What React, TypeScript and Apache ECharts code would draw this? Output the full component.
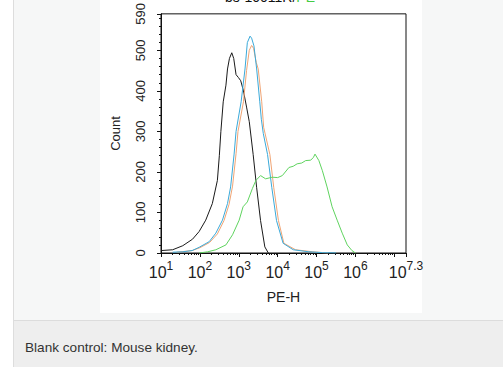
import React, { useEffect, useRef } from "react";
import * as echarts from "echarts";

// x values are log10 of PE-H intensity
const blackX = [1.0, 1.3, 1.56, 1.81, 1.98, 2.15, 2.32, 2.45, 2.5, 2.54, 2.6, 2.67, 2.71, 2.76, 2.82, 2.87, 2.93, 2.99, 3.05, 3.12, 3.2, 3.27, 3.37, 3.46, 3.56, 3.67, 3.76];
const blackY = [6, 8, 18, 34, 53, 81, 122, 179, 240, 300, 373, 414, 454, 480, 494, 480, 440, 433, 425, 400, 360, 324, 243, 161, 80, 15, 0];

const blueX = [1.3, 1.56, 1.8, 1.98, 2.24, 2.41, 2.58, 2.71, 2.79, 2.88, 2.93, 3.06, 3.16, 3.22, 3.29, 3.33, 3.39, 3.46, 3.54, 3.58, 3.63, 3.74, 3.85, 3.97, 4.14, 4.4, 4.8, 5.15, 5.5];
const blueY = [2, 3, 6, 14, 28, 49, 81, 122, 163, 244, 300, 373, 454, 519, 535, 530, 511, 454, 373, 330, 295, 243, 161, 80, 24, 8, 3, 1, 0];

const orangeX = [1.4, 1.8, 2.0, 2.25, 2.45, 2.62, 2.75, 2.84, 2.93, 2.98, 3.12, 3.2, 3.27, 3.33, 3.38, 3.45, 3.5, 3.59, 3.64, 3.8, 3.9, 4.02, 4.16, 4.46, 4.9, 5.3];
const orangeY = [2, 6, 13, 26, 47, 80, 120, 165, 245, 300, 373, 450, 500, 512, 505, 470, 454, 373, 310, 243, 161, 80, 24, 8, 3, 0];

const greenX = [1.98, 2.2, 2.41, 2.67, 2.84, 3.01, 3.11, 3.22, 3.35, 3.44, 3.56, 3.69, 3.86, 4.0, 4.12, 4.29, 4.4, 4.5, 4.62, 4.72, 4.85, 4.92, 4.96, 5.06, 5.15, 5.27, 5.4, 5.53, 5.66, 5.79, 5.91, 6.0];
const greenY = [0, 3, 8, 20, 45, 81, 114, 126, 159, 179, 191, 183, 187, 186, 191, 211, 214, 220, 222, 228, 229, 236, 244, 228, 203, 163, 114, 81, 49, 20, 6, 0];

const xLabelValues = [1, 2, 3, 4, 5, 6, 7.3];
const xMajorTicks = [1, 2, 3, 4, 5, 6, 7, 7.3];
const yLabelValues = [0, 100, 200, 300, 400, 500, 590];
const yMinorStep = 20;

const zip = (xs: number[], ys: number[]) => xs.map((x, i) => [x, ys[i]]);

export default function App() {
  const ref = useRef<HTMLDivElement>(null);
  useEffect(() => {
    document.body.style.margin = "0";
    const chart = echarts.init(ref.current!, null, { renderer: "svg" });

    const xMinor: number[] = [];
    for (let d = 1; d <= 7; d++) {
      for (let k = 2; k <= 9; k++) {
        const v = d + Math.log10(k);
        if (v < 7.3) xMinor.push(v);
      }
    }
    const yMinor: number[] = [];
    for (let v = 0; v <= 590; v += yMinorStep) {
      if (v % 100 !== 0) yMinor.push(v);
    }

    const font = "Liberation Sans, Arial, sans-serif";
    const line = (name: string, xs: number[], ys: number[], color: string) => ({
      name,
      type: "line",
      data: zip(xs, ys),
      showSymbol: false,
      symbol: "none",
      lineStyle: { color, width: 1 },
      z: 3,
    });

    chart.setOption({
      animation: false,
      backgroundColor: "#f6f7f7",
      textStyle: { fontFamily: font },
      graphic: [
        { type: "rect", z: -10, shape: { x: 0, y: 0, width: 13, height: 367 }, style: { fill: "#ffffff" } },
        { type: "line", z: -9, shape: { x1: 13.5, y1: 0, x2: 13.5, y2: 367 }, style: { stroke: "#dddddd", lineWidth: 1 } },
        { type: "rect", z: -10, shape: { x: 100, y: 0, width: 322, height: 313 }, style: { fill: "#ffffff" } },
        { type: "rect", z: -10, shape: { x: 14, y: 320, width: 489, height: 47 }, style: { fill: "#eeeeee" } },
        { type: "line", z: -9, shape: { x1: 14, y1: 320.5, x2: 503, y2: 320.5 }, style: { stroke: "#dcdcdc", lineWidth: 1 } },
        {
          type: "text",
          x: 25,
          y: 347,
          style: { text: "Blank control: Mouse kidney.", fill: "#333333", font: `13.6px ${font}`, verticalAlign: "middle" },
        },
        {
          type: "text",
          x: 225,
          y: -10,
          style: {
            text: "{a|bs-10011R/}{g|PE}",
            verticalAlign: "top",
            rich: {
              a: { fill: "#111111", fontSize: 14, fontFamily: font },
              g: { fill: "#44cc44", fontSize: 14, fontFamily: font },
            },
          },
        },
      ],
      grid: {
        left: 161,
        top: 10,
        right: 97,
        bottom: 114,
        show: true,
        backgroundColor: "#ffffff",
        borderColor: "#111111",
        borderWidth: 1,
      },
      xAxis: [
        {
          type: "value",
          min: 1,
          max: 7.3,
          name: "PE-H",
          nameLocation: "middle",
          nameGap: 37,
          nameTextStyle: { fontSize: 14, color: "#222222", fontFamily: font },
          axisLine: { show: true, onZero: false, lineStyle: { color: "#111111" } },
          axisTick: { show: true, customValues: xMajorTicks, length: 4, lineStyle: { color: "#111111" } },
          splitLine: { show: false },
          axisLabel: {
            customValues: xLabelValues,
            margin: 7,
            fontSize: 14,
            color: "#222222",
            formatter: (v: number) => {
              const e = Math.abs(v - Math.round(v)) < 1e-6 ? String(Math.round(v)) : v.toFixed(1);
              return `{b|10}{s|${e}}`;
            },
            rich: {
              b: { fontSize: 16, color: "#222222", fontFamily: font, lineHeight: 20, verticalAlign: "bottom" },
              s: { fontSize: 12, color: "#222222", fontFamily: font, lineHeight: 20, verticalAlign: "top" },
            },
          },
        },
        {
          type: "value",
          min: 1,
          max: 7.3,
          position: "bottom",
          axisLine: { show: false },
          axisLabel: { show: false },
          splitLine: { show: false },
          axisTick: { show: true, customValues: xMinor, length: 2, lineStyle: { color: "#111111" } },
        },
      ],
      yAxis: [
        {
          type: "value",
          min: 0,
          max: 590,
          name: "Count",
          nameLocation: "middle",
          nameGap: 39,
          nameRotate: 90,
          nameTextStyle: { fontSize: 13, color: "#222222", fontFamily: font },
          axisLine: { show: true, lineStyle: { color: "#111111" } },
          axisTick: { show: true, customValues: yLabelValues, length: 4, lineStyle: { color: "#111111" } },
          splitLine: { show: false },
          axisLabel: {
            customValues: yLabelValues,
            rotate: 90,
            margin: 14,
            fontSize: 13,
            color: "#222222",
            fontFamily: font,
          },
        },
        {
          type: "value",
          min: 0,
          max: 590,
          position: "left",
          axisLine: { show: false },
          axisLabel: { show: false },
          splitLine: { show: false },
          axisTick: { show: true, customValues: yMinor, length: 2, lineStyle: { color: "#111111" } },
        },
      ],
      series: [
        line("black", blackX, blackY, "#1a1a1a"),
        line("orange", orangeX, orangeY, "#f0a474"),
        line("blue", blueX, blueY, "#3aa9d9"),
        line("green", greenX, greenY, "#5fd35f"),
      ],
    });
    return () => chart.dispose();
  }, []);
  return <div ref={ref} style={{ width: 503, height: 367 }} />;
}
